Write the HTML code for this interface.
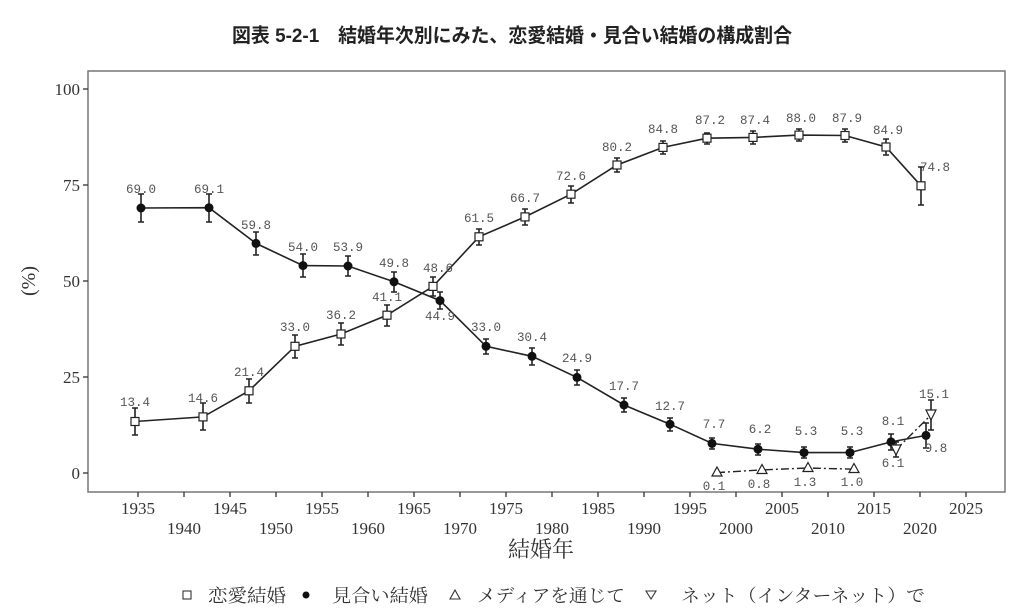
<!DOCTYPE html>
<html><head><meta charset="utf-8"><style>
html,body{margin:0;padding:0;background:#fff;}
svg{display:block;}
.t{font-family:"Liberation Mono","Liberation Serif",serif;font-size:12.5px;fill:#555;text-anchor:middle;}
.ax{font-family:"Liberation Serif",serif;font-size:17px;fill:#333;text-anchor:middle;}
.eb{stroke:#222;stroke-width:1.6;fill:none;}
</style></head><body>
<svg width="1024" height="610" viewBox="0 0 1024 610" xmlns="http://www.w3.org/2000/svg">
<rect width="1024" height="610" fill="#fff"/>
<text x="512" y="42" text-anchor="middle" font-family="'Liberation Sans','Noto Sans CJK JP',sans-serif" font-size="19.5" font-weight="bold" fill="#222" textLength="560" lengthAdjust="spacingAndGlyphs">図表 5-2-1　結婚年次別にみた、恋愛結婚・見合い結婚の構成割合</text>
<rect x="88" y="71" width="917" height="421" fill="none" stroke="#777" stroke-width="1.5"/>
<g stroke="#333" stroke-width="1.3">
<line x1="83" y1="89" x2="88" y2="89"/><line x1="83" y1="185" x2="88" y2="185"/><line x1="83" y1="281" x2="88" y2="281"/><line x1="83" y1="377" x2="88" y2="377"/><line x1="83" y1="473" x2="88" y2="473"/>
</g>
<g class="ax" style="text-anchor:end">
<text x="80" y="95">100</text><text x="80" y="191">75</text><text x="80" y="287">50</text><text x="80" y="383">25</text><text x="80" y="479">0</text>
</g>
<text transform="translate(35,281) rotate(-90)" text-anchor="middle" font-family="'Liberation Serif',serif" font-size="20" fill="#333">(%)</text>
<g stroke="#333" stroke-width="1.3">
<line x1="138" y1="492" x2="138" y2="497"/><line x1="184" y1="492" x2="184" y2="497"/><line x1="230" y1="492" x2="230" y2="497"/><line x1="276" y1="492" x2="276" y2="497"/><line x1="322" y1="492" x2="322" y2="497"/><line x1="368" y1="492" x2="368" y2="497"/><line x1="414" y1="492" x2="414" y2="497"/><line x1="460" y1="492" x2="460" y2="497"/><line x1="506" y1="492" x2="506" y2="497"/><line x1="552" y1="492" x2="552" y2="497"/><line x1="598" y1="492" x2="598" y2="497"/><line x1="644" y1="492" x2="644" y2="497"/><line x1="690" y1="492" x2="690" y2="497"/><line x1="736" y1="492" x2="736" y2="497"/><line x1="782" y1="492" x2="782" y2="497"/><line x1="828" y1="492" x2="828" y2="497"/><line x1="874" y1="492" x2="874" y2="497"/><line x1="920" y1="492" x2="920" y2="497"/><line x1="966" y1="492" x2="966" y2="497"/>
</g>
<g class="ax">
<text x="138" y="514">1935</text><text x="230" y="514">1945</text><text x="322" y="514">1955</text><text x="414" y="514">1965</text><text x="506" y="514">1975</text><text x="598" y="514">1985</text><text x="690" y="514">1995</text><text x="782" y="514">2005</text><text x="874" y="514">2015</text><text x="966" y="514">2025</text>
<text x="184" y="534">1940</text><text x="276" y="534">1950</text><text x="368" y="534">1960</text><text x="460" y="534">1970</text><text x="552" y="534">1980</text><text x="644" y="534">1990</text><text x="736" y="534">2000</text><text x="828" y="534">2010</text><text x="920" y="534">2020</text>
</g>
<text x="541" y="557" text-anchor="middle" font-family="'Liberation Serif','Noto Serif CJK SC',serif" font-size="22" fill="#333">結婚年</text>

<polyline fill="none" stroke="#222" stroke-width="1.6" points="135,421.5 203,416.9 249,390.8 295,346.3 341,334 387,315.2 433,286.4 479,236.8 525,216.9 571,194.2 617,165 663,147.4 707,138.2 753,137.4 799,135.1 845,135.5 886,147 921,185.8"/>
<polyline fill="none" stroke="#222" stroke-width="1.6" points="141,208 209,207.7 256,243.4 303,265.6 348,266 394,281.8 440,300.6 486,346.3 532,356.3 577,377.4 624,405 670,424.2 712,443.4 758,449.2 804,452.6 850,452.6 891,441.9 926,435.4"/>
<polyline fill="none" stroke="#222" stroke-width="1.4" stroke-dasharray="8,3,2,3" points="717,472.6 762,469.9 808,468 854,469.2"/>
<polyline fill="none" stroke="#222" stroke-width="1.4" stroke-dasharray="8,3,2,3" points="896,449.6 931,415"/>

<path class="eb" d="M135 408V435M132 408H138M132 435H138
M203 403V430M200 403H206M200 430H206
M249 379V403M246 379H252M246 403H252
M295 335V358M292 335H298M292 358H298
M341 323V345M338 323H344M338 345H344
M387 305V326M384 305H390M384 326H390
M433 277V296M430 277H436M430 296H436
M479 229V245M476 229H482M476 245H482
M525 209V225M522 209H528M522 225H528
M571 186V203M568 186H574M568 203H574
M617 158V172M614 158H620M614 172H620
M663 141V154M660 141H666M660 154H666
M707 133V144M704 133H710M704 144H710
M753 131V144M750 131H756M750 144H756
M799 129V141M796 129H802M796 141H802
M845 129V142M842 129H848M842 142H848
M886 139V155M883 139H889M883 155H889
M921 167V205M918 167H924M918 205H924"/>
<path class="eb" d="M141 194V222M138 194H144M138 222H144
M209 194V222M206 194H212M206 222H212
M256 232V255M253 232H259M253 255H259
M303 254V277M300 254H306M300 277H306
M348 256V276M345 256H351M345 276H351
M394 272V292M391 272H397M391 292H397
M440 292V309M437 292H443M437 309H443
M486 339V354M483 339H489M483 354H489
M532 348V365M529 348H535M529 365H535
M577 370V385M574 370H580M574 385H580
M624 398V412M621 398H627M621 412H627
M670 418V431M667 418H673M667 431H673
M712 438V449M709 438H715M709 449H715
M758 444V455M755 444H761M755 455H761
M804 447V458M801 447H807M801 458H807
M850 447V458M847 447H853M847 458H853
M891 434V450M888 434H894M888 450H894
M926 423V448M923 423H929M923 448H929
M896 442V457M893 442H899M893 457H899
M931 400V430M928 400H934M928 430H934
M762 467V473M808 464V472M854 466V472"/>

<g fill="#fff" stroke="#222" stroke-width="1.2">
<rect x="131" y="417.5" width="8" height="8"/><rect x="199" y="412.9" width="8" height="8"/><rect x="245" y="386.8" width="8" height="8"/><rect x="291" y="342.3" width="8" height="8"/><rect x="337" y="330" width="8" height="8"/><rect x="383" y="311.2" width="8" height="8"/><rect x="429" y="282.4" width="8" height="8"/><rect x="475" y="232.8" width="8" height="8"/><rect x="521" y="212.9" width="8" height="8"/><rect x="567" y="190.2" width="8" height="8"/><rect x="613" y="161" width="8" height="8"/><rect x="659" y="143.4" width="8" height="8"/><rect x="703" y="134.2" width="8" height="8"/><rect x="749" y="133.4" width="8" height="8"/><rect x="795" y="131.1" width="8" height="8"/><rect x="841" y="131.5" width="8" height="8"/><rect x="882" y="143" width="8" height="8"/><rect x="917" y="181.8" width="8" height="8"/>
</g>
<g fill="#111">
<circle cx="141" cy="208" r="4.5"/><circle cx="209" cy="207.7" r="4.5"/><circle cx="256" cy="243.4" r="4.5"/><circle cx="303" cy="265.6" r="4.5"/><circle cx="348" cy="266" r="4.5"/><circle cx="394" cy="281.8" r="4.5"/><circle cx="440" cy="300.6" r="4.5"/><circle cx="486" cy="346.3" r="4.5"/><circle cx="532" cy="356.3" r="4.5"/><circle cx="577" cy="377.4" r="4.5"/><circle cx="624" cy="405" r="4.5"/><circle cx="670" cy="424.2" r="4.5"/><circle cx="712" cy="443.4" r="4.5"/><circle cx="758" cy="449.2" r="4.5"/><circle cx="804" cy="452.6" r="4.5"/><circle cx="850" cy="452.6" r="4.5"/><circle cx="891" cy="441.9" r="4.5"/><circle cx="926" cy="435.4" r="4.5"/>
</g>
<g fill="#fff" stroke="#222" stroke-width="1.2">
<path d="M717 467L722 476H712Z"/><path d="M762 464.5L767 473.5H757Z"/><path d="M808 462.5L813 471.5H803Z"/><path d="M854 463.5L859 472.5H849Z"/>
<path d="M891 445H901L896 455Z"/><path d="M926 410H936L931 420Z"/>
</g>

<g class="t">
<text x="135" y="406">13.4</text><text x="203" y="402">14.6</text><text x="249" y="376">21.4</text><text x="295" y="331">33.0</text><text x="341" y="319">36.2</text><text x="387" y="301">41.1</text><text x="438" y="272">48.6</text><text x="479" y="222">61.5</text><text x="525" y="202">66.7</text><text x="571" y="180">72.6</text><text x="617" y="151">80.2</text><text x="663" y="133">84.8</text><text x="710" y="124">87.2</text><text x="755" y="124">87.4</text><text x="801" y="122">88.0</text><text x="847" y="122">87.9</text><text x="888" y="134">84.9</text><text x="935" y="171">74.8</text>
</g>
<g class="t">
<text x="141" y="193">69.0</text><text x="209" y="193">69.1</text><text x="256" y="229">59.8</text><text x="303" y="251">54.0</text><text x="348" y="251">53.9</text><text x="394" y="267">49.8</text><text x="440" y="320">44.9</text><text x="486" y="331">33.0</text><text x="532" y="341">30.4</text><text x="577" y="362">24.9</text><text x="624" y="390">17.7</text><text x="670" y="410">12.7</text><text x="714" y="428">7.7</text><text x="760" y="433">6.2</text><text x="806" y="435">5.3</text><text x="852" y="435">5.3</text><text x="893" y="425">8.1</text><text x="936" y="452">9.8</text>
<text x="714" y="490">0.1</text><text x="759" y="488">0.8</text><text x="805" y="486">1.3</text><text x="852" y="486">1.0</text>
<text x="893" y="467">6.1</text><text x="934" y="398">15.1</text>
</g>

<g font-family="'Liberation Serif','Noto Serif CJK SC',serif" font-size="18" fill="#333">
<rect x="183" y="591" width="8" height="8" fill="#fff" stroke="#333" stroke-width="1.1"/>
<text x="208" y="602" textLength="78" lengthAdjust="spacingAndGlyphs">恋愛結婚</text>
<circle cx="306" cy="595" r="3.5" fill="#111"/>
<text x="332" y="602" textLength="96" lengthAdjust="spacingAndGlyphs">見合い結婚</text>
<path d="M455 590L460 599H450Z" fill="none" stroke="#333" stroke-width="1.1"/>
<text x="477" y="602" textLength="148" lengthAdjust="spacingAndGlyphs">メディアを通じて</text>
<path d="M646 591H656L651 599Z" fill="none" stroke="#333" stroke-width="1.1"/>
<text x="681" y="602" textLength="244" lengthAdjust="spacingAndGlyphs">ネット（インターネット）で</text>
</g>
</svg>
</body></html>
